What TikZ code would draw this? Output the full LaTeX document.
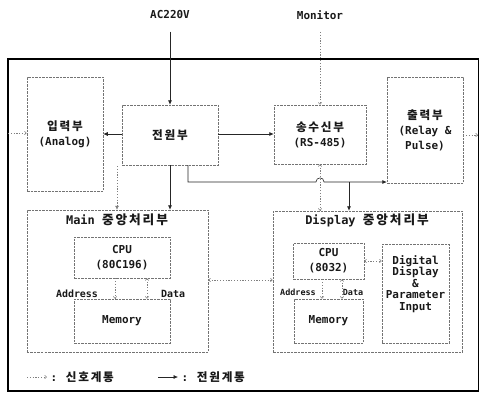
\documentclass[tikz,border=0pt]{standalone}
\usepackage{fontspec}
\setmainfont{DejaVu Sans Mono}
\newfontfamily\kr[LetterSpace=15,Scale=1.06]{Noto Sans CJK KR}
\newcommand\K[1]{{\kr\bfseries #1}}
\usetikzlibrary{arrows.meta}
\begin{document}
\begin{tikzpicture}[x=1bp,y=-1bp,
  box/.style={draw=black!55, dash pattern=on 2.5bp off 1bp, line width=0.5bp, inner sep=0pt},
  pwr/.style={draw=black!85, line width=0.6bp, -{Latex[length=4.5bp,width=4bp]}},
  sig/.style={draw=black!50, line width=0.5bp, dash pattern=on 1.2bp off 1.6bp, -{Straight Barb[length=2bp,width=3.5bp]}},
  sigb/.style={sig, {Straight Barb[length=2bp,width=3.5bp]}-{Straight Barb[length=2bp,width=3.5bp]}},
  lbl/.style={font=\fontsize{11}{15}\selectfont\bfseries, align=center, text=black!90},
  ttl/.style={font=\fontsize{12}{14}\selectfont\bfseries, text=black!90},
  sml/.style={font=\fontsize{10}{12}\selectfont\bfseries, text=black!90},
]
\useasboundingbox (0,0) rectangle (479,402);
\draw[line width=1.1bp] (8,59) rectangle (478.5,391);

% top labels
\node[lbl] (ac) at (170,15) {AC220V};
\node[lbl] (mon) at (320,15) {Monitor};

% boxes
\node[box, lbl, minimum width=76bp, minimum height=114bp] (in) at (65,134) {\K{입력부}\\(Analog)};
\node[box, lbl, minimum width=96bp, minimum height=60bp] (pw) at (170,135) {\K{전원부}};
\node[box, lbl, minimum width=92bp, minimum height=59bp] (rs) at (320,134.5) {\K{송수신부}\\(RS-485)};
\node[box, lbl, minimum width=76bp, minimum height=106bp] (out) at (425,130) {\K{출력부}\\(Relay \&\\Pulse)};

\node[box, minimum width=181bp, minimum height=142bp] (main) at (117.5,281) {};
\node[ttl] (maint) at (117,220) {Main \K{중앙처리부}};
\node[box, lbl, minimum width=96bp, minimum height=41bp] (cpu1) at (122,257.5) {CPU\\(80C196)};
\node[box, lbl, minimum width=96bp, minimum height=44bp] (mem1) at (122,321) {Memory};
\node[sml] (adr1) at (77,294) {Address};
\node[sml] (dat1) at (173,294) {Data};

\node[box, minimum width=189bp, minimum height=141bp] (disp) at (367.5,281.5) {};
\node[ttl] (dispt) at (367,220) {Display \K{중앙처리부}};
\node[box, lbl, minimum width=71bp, minimum height=36bp] (cpu2) at (328.5,261) {CPU\\(8032)};
\node[box, lbl, minimum width=69bp, minimum height=44bp] (mem2) at (328.5,321) {Memory};
\node[box, minimum width=67bp, minimum height=99bp] (dd) at (415.5,293.5) {};
\node[lbl, font=\fontsize{11}{11.5}\selectfont\bfseries] (ddt) at (415.5,284) {Digital\\Display\\\&\\Parameter\\Input};
\node[sml, font=\fontsize{8.5}{10}\selectfont\bfseries] (adr2) at (298,292) {Address};
\node[sml, font=\fontsize{8.5}{10}\selectfont\bfseries] (dat2) at (353,292) {Data};

% power connectors
\draw[pwr] ([yshift=-9bp]ac.south) -- (pw.north);
\draw[pwr] (pw.west |- 0,134) -- (in.east |- 0,134);
\draw[pwr] (pw.east |- 0,134) -- (rs.west |- 0,134);
\draw[pwr] (pw.south) -- (pw.south |- main.north);
\coordinate (p0) at (188,165);
\coordinate (h1) at (316,182);
\coordinate (h2) at (324,182);
\coordinate (j) at (349,182);
\draw[pwr] (p0) -- (188,182) -- (h1) .. controls (316,176.5) and (324,176.5) .. (h2) -- (j) -- (j -| out.west);
\draw[pwr] (j) -- (j |- disp.north);

% signal connectors
\draw[sig] ([yshift=-9bp]mon.south) -- (rs.north);
\draw[sigb] (rs.south) -- (rs.south |- disp.north);
\coordinate (s0) at (117,166);
\draw[sig, -{Latex[length=4bp,width=4bp]}] (s0) -- (s0 |- main.north);
\coordinate (fl) at (8,133);
\draw[sig] (fl) -- (fl -| in.west);
\coordinate (fr) at (478,135);
\draw[sig] (out.east |- fr) -- (fr);
\draw[sigb] (main.east |- 0,280) -- (disp.west |- 0,280);
\draw[sig] (115,0 |- cpu1.south) -- (115,0 |- mem1.north);
\draw[sigb] (147,0 |- cpu1.south) -- (147,0 |- mem1.north);
\draw[sig] (322,0 |- cpu2.south) -- (322,0 |- mem2.north);
\draw[sigb] (342,0 |- cpu2.south) -- (342,0 |- mem2.north);
\draw[sigb] (cpu2.east |- 0,261) -- (dd.west |- 0,261);

% legend
\coordinate (l1) at (27,377);
\coordinate (l2) at (47,377);
\draw[sig] (l1) -- (l2);
\node[lbl, anchor=west] (lt1) at (47,377) {: \K{신호계통}};
\coordinate (l3) at (158,377);
\coordinate (l4) at (178,377);
\draw[pwr] (l3) -- (l4);
\node[lbl, anchor=west] (lt2) at (178,377) {: \K{전원계통}};
\end{tikzpicture}
\end{document}
